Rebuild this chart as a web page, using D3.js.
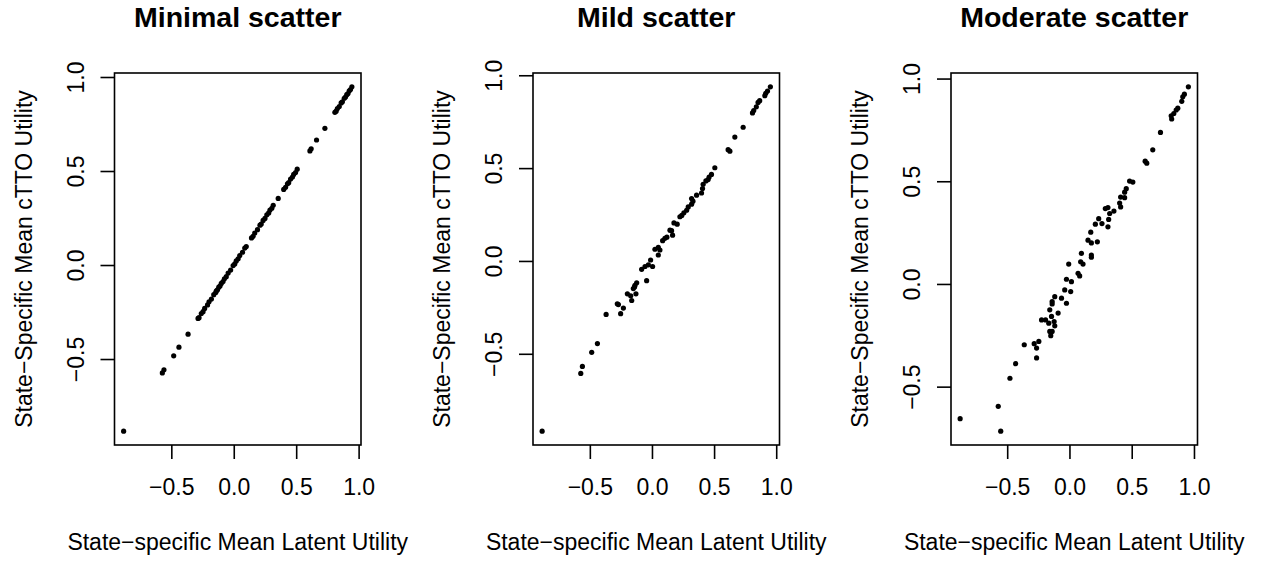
<!DOCTYPE html>
<html>
<head>
<meta charset="utf-8">
<script src="https://cdn.jsdelivr.net/npm/d3@7"></script>
<style>
  body { margin: 0; background: #fff; }
  text { font-family: "Liberation Sans", Arial, Helvetica, sans-serif; }
</style>
</head>
<body>
<div class="chart"></div>
<script>
//data
var titles = ["Minimal scatter", "Mild scatter", "Moderate scatter"];
var xLabel = "State\u2212specific Mean Latent Utility";
var yLabel = "State\u2212Specific Mean cTTO Utility";
var xTicks = [-0.5, 0.0, 0.5, 1.0];
var yTicks = [-0.5, 0.0, 0.5, 1.0];

var minimalX = [0.946, 0.935, 0.925, 0.915, 0.905, 0.895, 0.885, 0.870, 0.860, 0.845, 0.830, 0.820, 0.810,
  0.730, 0.663, 0.620, 0.610, 0.508, 0.495, 0.480, 0.470, 0.455, 0.440, 0.430, 0.415, 0.400, 0.356,
  0.316, 0.305, 0.290, 0.280, 0.265, 0.250, 0.235, 0.220, 0.210, 0.190, 0.168, 0.155, 0.142,
  0.100, 0.088, 0.070, 0.048, 0.035, 0.020, 0.008, -0.005, -0.025, -0.045, -0.060, -0.075, -0.086,
  -0.100, -0.110, -0.120, -0.130, -0.139, -0.144, -0.160, -0.179, -0.198, -0.210, -0.233, -0.246,
  -0.260, -0.278, -0.286, -0.366, -0.439, -0.481, -0.559, -0.572, -0.882];
var minimalY = [0.948, 0.933, 0.927, 0.912, 0.906, 0.893, 0.887, 0.868, 0.862, 0.843, 0.832, 0.818, 0.812,
  0.727, 0.665, 0.618, 0.607, 0.510, 0.492, 0.482, 0.468, 0.457, 0.438, 0.432, 0.413, 0.402, 0.354,
  0.318, 0.302, 0.292, 0.277, 0.267, 0.248, 0.237, 0.218, 0.212, 0.188, 0.170, 0.153, 0.144,
  0.098, 0.090, 0.068, 0.050, 0.033, 0.022, 0.006, -0.003, -0.027, -0.043, -0.062, -0.073, -0.088,
  -0.098, -0.112, -0.118, -0.132, -0.137, -0.146, -0.158, -0.181, -0.196, -0.212, -0.231, -0.248,
  -0.258, -0.280, -0.284, -0.368, -0.437, -0.483, -0.557, -0.574, -0.884];

var mildX = [0.953, 0.930, 0.916, 0.908, 0.867, 0.854, 0.840, 0.819, 0.809, 0.734, 0.667, 0.613, 0.627,
  0.506, 0.479, 0.460, 0.452, 0.434, 0.412, 0.407, 0.399, 0.359, 0.330, 0.319, 0.319, 0.292, 0.279,
  0.257, 0.240, 0.225, 0.203, 0.177, 0.158, 0.145, 0.166, 0.120, 0.104, 0.086, 0.051, 0.064, 0.024,
  0.051, -0.011, -0.029, 0.005, -0.083, -0.056, -0.043, -0.123, -0.137, -0.140, -0.150, -0.129,
  -0.198, -0.171, -0.163, -0.279, -0.270, -0.230, -0.252, -0.369, -0.439, -0.485, -0.560, -0.573, -0.884];
var mildY = [0.938, 0.915, 0.903, 0.890, 0.863, 0.854, 0.830, 0.810, 0.797, 0.720, 0.667, 0.599, 0.591,
  0.502, 0.466, 0.452, 0.438, 0.431, 0.413, 0.390, 0.366, 0.354, 0.322, 0.336, 0.306, 0.291, 0.273,
  0.259, 0.245, 0.238, 0.198, 0.205, 0.163, 0.166, 0.139, 0.128, 0.122, 0.109, 0.073, 0.059, 0.063,
  0.032, 0.005, -0.021, -0.030, -0.045, -0.030, -0.106, -0.118, -0.131, -0.140, -0.149, -0.177,
  -0.177, -0.188, -0.213, -0.231, -0.235, -0.254, -0.284, -0.288, -0.445, -0.492, -0.568, -0.606, -0.917];

var moderateX = [0.955, 0.923, 0.910, 0.902, 0.870, 0.857, 0.838, 0.817, 0.821, 0.731, 0.669, 0.608, 0.621,
  0.509, 0.483, 0.456, 0.443, 0.411, 0.443, 0.403, 0.411, 0.357, 0.309, 0.288, 0.323, 0.315, 0.235,
  0.261, 0.208, 0.309, 0.171, 0.149, 0.176, 0.224, 0.096, 0.176, 0.176, -0.006, 0.090, 0.109, 0.069,
  0.082, -0.024, 0.016, -0.038, 0.010, -0.118, -0.064, -0.139, -0.139, -0.024, -0.158, -0.091, -0.144,
  -0.224, -0.192, -0.166, -0.123, -0.118, -0.158, -0.139, -0.150, -0.246, -0.283, -0.264, -0.363,
  -0.264, -0.432, -0.478, -0.572, -0.878, -0.552];
var moderateY = [0.960, 0.924, 0.911, 0.889, 0.856, 0.847, 0.830, 0.819, 0.803, 0.738, 0.653, 0.598, 0.588,
  0.496, 0.501, 0.464, 0.447, 0.423, 0.420, 0.394, 0.375, 0.355, 0.372, 0.367, 0.343, 0.314, 0.318,
  0.294, 0.291, 0.278, 0.252, 0.213, 0.200, 0.205, 0.149, 0.141, 0.130, 0.097, 0.108, 0.097, 0.052,
  0.039, 0.023, 0.011, -0.029, -0.037, -0.062, -0.069, -0.086, -0.097, -0.094, -0.126, -0.142, -0.158,
  -0.175, -0.175, -0.191, -0.183, -0.204, -0.231, -0.231, -0.252, -0.280, -0.291, -0.312, -0.296,
  -0.360, -0.388, -0.459, -0.596, -0.656, -0.717];

var seriesX = [minimalX, mildX, moderateX];
var seriesY = [minimalY, mildY, moderateY];

//----------------------------------------------------------
// layout

var w = 1265;
var h = 561;
var boxLeft = [114.5, 533, 951];
var boxW = 246.5;
var boxTop = 73;
var boxBottom = 445;
var fontSize = 23;

// R style axis range: data range plus 4% on each side
function padded(vals) {
  var ext = d3.extent(vals);
  var r = ext[1] - ext[0];
  return [ext[0] - 0.04 * r, ext[1] + 0.04 * r];
}

var fmt = d3.format(".1f");

var svg = d3.select(".chart")
    .append("svg")
    .attr("width", w)
    .attr("height", h);

titles.forEach(function(title, p) {
  var xs = seriesX[p], ys = seriesY[p];
  var pts = xs.map(function(d, i) { return [d, ys[i]]; });

  var x = d3.scaleLinear().domain(padded(xs)).range([boxLeft[p], boxLeft[p] + boxW]);
  var y = d3.scaleLinear().domain(padded(ys)).range([boxBottom, boxTop]);

  var g = svg.append("g");

  g.selectAll("circle")
      .data(pts)
      .enter()
      .append("circle")
      .attr("cx", function(d) { return x(d[0]); })
      .attr("cy", function(d) { return y(d[1]); })
      .attr("r", 2.6)
      .attr("fill", "#000");

  g.append("rect")
      .attr("x", boxLeft[p])
      .attr("y", boxTop)
      .attr("width", boxW)
      .attr("height", boxBottom - boxTop)
      .attr("fill", "none")
      .attr("stroke", "#000")
      .attr("stroke-width", 1.6);

  // bottom axis
  var xa = g.append("g")
      .attr("transform", "translate(0," + boxBottom + ")")
      .call(d3.axisBottom(x).tickValues(xTicks).tickFormat(fmt).tickSize(14).tickSizeOuter(0));
  xa.select(".domain").remove();
  xa.selectAll("line").attr("stroke-width", 1.6);
  xa.selectAll("text")
      .attr("y", 50)
      .attr("dy", null)
      .attr("font-size", fontSize)
      .attr("font-family", null)
      .attr("fill", "#000");

  // left axis
  var ya = g.append("g")
      .attr("transform", "translate(" + boxLeft[p] + ",0)")
      .call(d3.axisLeft(y).tickValues(yTicks).tickFormat(fmt).tickSize(14).tickSizeOuter(0));
  ya.select(".domain").remove();
  ya.selectAll("line").attr("stroke-width", 1.6);
  ya.selectAll("text")
      .attr("x", null)
      .attr("dy", null)
      .attr("text-anchor", "middle")
      .attr("transform", "translate(-31,0) rotate(-90)")
      .attr("font-size", fontSize)
      .attr("font-family", null)
      .attr("fill", "#000");

  var cx = boxLeft[p] + boxW / 2;

  g.append("text")
      .attr("x", cx)
      .attr("y", 27)
      .attr("text-anchor", "middle")
      .attr("font-size", 28.5)
      .attr("font-weight", "bold")
      .text(title);

  g.append("text")
      .attr("x", cx)
      .attr("y", boxBottom + 105)
      .attr("text-anchor", "middle")
      .attr("font-size", fontSize)
      .text(xLabel);

  g.append("text")
      .attr("transform", "translate(" + (boxLeft[p] - 83) + "," + ((boxTop + boxBottom) / 2) + ") rotate(-90)")
      .attr("text-anchor", "middle")
      .attr("font-size", fontSize)
      .text(yLabel);
});
</script>
</body>
</html>
